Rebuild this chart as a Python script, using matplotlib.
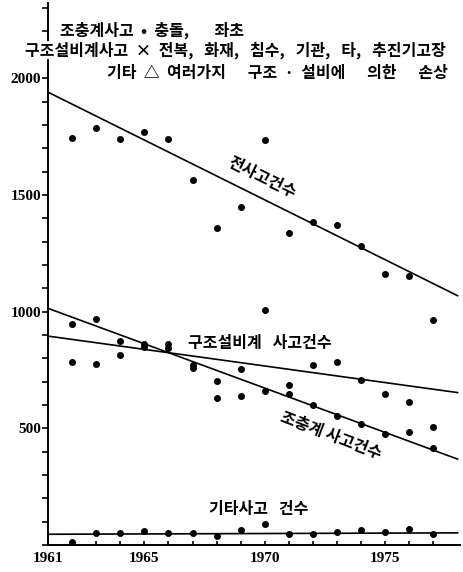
import numpy as np
import matplotlib
matplotlib.use("Agg")
import matplotlib.pyplot as plt
from matplotlib.ticker import MultipleLocator, FixedLocator

plt.rcParams["font.family"] = ["Noto Sans CJK KR", "DejaVu Sans"]
KR = ["Noto Sans CJK KR", "DejaVu Sans"]
NUM = ["Liberation Serif", "DejaVu Serif"]

# data (yearly accident counts)
years = [1962, 1963, 1964, 1965, 1966, 1967, 1968, 1969,
         1970, 1971, 1972, 1973, 1974, 1975, 1976, 1977]
total = [1745, 1785, 1740, 1770, 1740, 1565, 1360, 1447,
         1735, 1335, 1384, 1370, 1283, 1161, 1154, 962]
collision = [947, 970, 876, 859, 863, 760, 631, 640,
             660, 645, 600, 554, 518, 474, 483, 417]
structural = [783, 774, 816, 849, 843, 770, 703, 752,
              1005, 685, 771, 785, 707, 647, 614, 507]
other = [14, 50, 53, 60, 50, 50, 40, 64,
         89, 46, 46, 54, 64, 54, 69, 46]

# trend lines as drawn (value at start / end year)
trend_years = [1961, 1978]
total_trend = [1940, 1068]
collision_trend = [1014, 368]
structural_trend = [895, 653]
other_trend = [46, 52]

xtick_labels = [1961, 1965, 1970, 1975]

fig = plt.figure(figsize=(4.63, 5.72), dpi=100)
ax = fig.add_axes([48 / 463, 27 / 572, 412 / 463, 542 / 572])
ax.set_xlim(1961, 1978.1)
ax.set_ylim(0, 2322)

for tr in (total_trend, collision_trend, structural_trend, other_trend):
    ax.plot(trend_years, tr, color="black", lw=1.2, zorder=3)

for s in (total, collision, structural, other):
    ax.plot(years, s, ls="none", marker="o", ms=4, color="black", zorder=4)

for sp in ("top", "right"):
    ax.spines[sp].set_visible(False)
ax.spines["left"].set_linewidth(1.4)
ax.spines["bottom"].set_linewidth(1.4)

ax.yaxis.set_major_locator(MultipleLocator(500))
ax.yaxis.set_minor_locator(MultipleLocator(100))
ax.set_yticks([500, 1000, 1500, 2000])
ax.tick_params(axis="y", which="both", direction="out", length=4, width=1.2, pad=1)
ax.xaxis.set_major_locator(FixedLocator(xtick_labels))
ax.xaxis.set_minor_locator(FixedLocator(years))
ax.tick_params(axis="x", which="both", direction="in", length=3, width=1.2, pad=5)
for lab in ax.get_xticklabels() + ax.get_yticklabels():
    lab.set_family(NUM); lab.set_fontsize(11); lab.set_fontweight("bold")

# legend block at top
hdr = dict(fontsize=11.5, fontweight="bold", family=KR, va="center", ha="left")
fig.text(60 / 463, 1 - 30 / 572, "조충계사고  •  충돌,       좌초", **hdr)
fig.text(25 / 463, 1 - 50 / 572,
         "구조설비계사고  ×  전복,   화재,   침수,   기관,   타,   추진기고장",
         bbox=dict(fc="white", ec="none", pad=0.5), zorder=10, **hdr)
fig.text(107 / 463, 1 - 73 / 572,
         "기타  △  여러가지      구조  ·  설비에      의한      손상", **hdr)

# series labels
lab = dict(fontsize=11.5, fontweight="bold", family=KR, ha="center", va="center")
ax.text(1969.9, 1573, "전사고건수", rotation=-26, **lab)
ax.text(1969.8, 866, "구조설비계   사고건수", **lab)
ax.text(1972.75, 471, "조충계 사고건수", rotation=-21, **lab)
ax.text(1969.75, 154, "기타사고   건수", **lab)

fig.savefig("out.png", dpi=100, facecolor="white")
